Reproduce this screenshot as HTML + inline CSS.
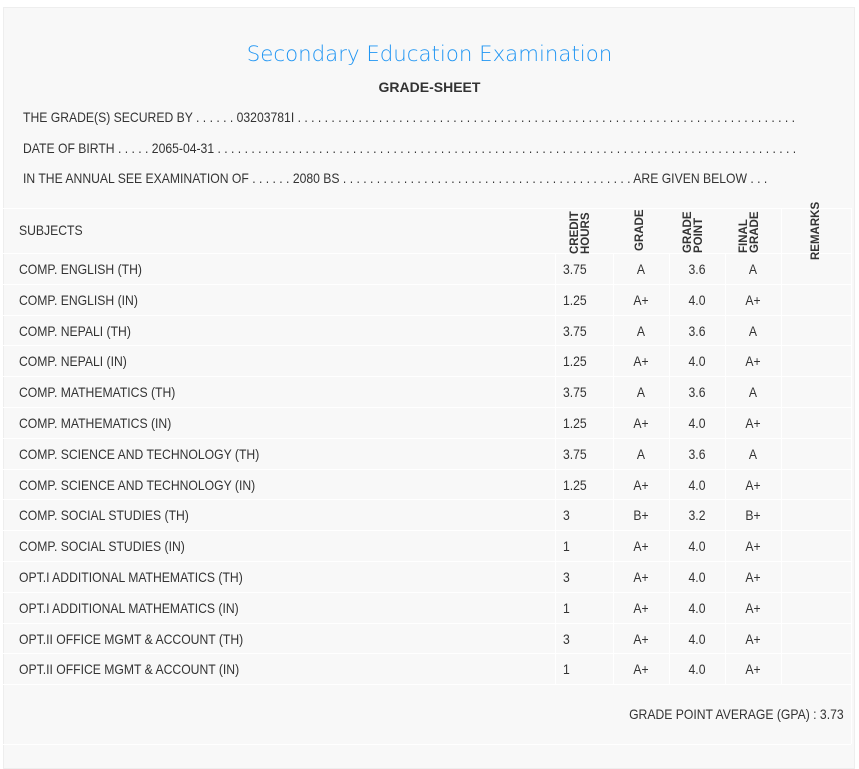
<!DOCTYPE html>
<html><head><style>
html,body{margin:0;padding:0;width:859px;height:757px;background:#fff;overflow:hidden}
body{font-family:"Liberation Sans",sans-serif;color:#333;font-size:14px}
.box{position:absolute;left:3px;top:7px;width:850px;height:760px;background:#f8f8f8;border:1px solid #eee}
.t{position:absolute;white-space:nowrap;transform:scaleX(.87);transform-origin:left top}
.tr{position:absolute;white-space:nowrap;transform:scaleX(.87);transform-origin:right top}
.hl{position:absolute;left:3px;width:848px;height:1px;background:#fff}
.vl{position:absolute;width:1px;background:#fff}
.c{position:absolute;text-align:center;white-space:nowrap;transform:scaleX(.87)}
.clip{position:absolute;overflow:hidden;white-space:nowrap;height:20px}
.rot{position:absolute;transform:rotate(-90deg);transform-origin:left top;font-weight:bold;font-size:11.5px;line-height:11px;white-space:nowrap;text-align:left}
</style></head><body>
<div class="box"></div>
<div style="position:absolute;left:0;width:859px;text-align:center;top:42px;font-family:'DejaVu Sans',sans-serif;font-size:21.3px;color:#2196f3;font-weight:300;white-space:nowrap">Secondary Education Examination</div>
<div style="position:absolute;left:0;width:859px;text-align:center;top:79px;font-weight:bold;font-size:14px">GRADE-SHEET</div>
<div class="clip" style="left:23px;top:109px;width:776px"><div class="t" style="left:0;top:0">THE GRADE(S) SECURED BY . . . . . . 03203781I . . . . . . . . . . . . . . . . . . . . . . . . . . . . . . . . . . . . . . . . . . . . . . . . . . . . . . . . . . . . . . . . . . . . . . . . . . . . . . . . . . . . . . . . . . . . .</div></div>
<div class="clip" style="left:23px;top:140px;width:772px"><div class="t" style="left:0;top:0">DATE OF BIRTH . . . . . 2065-04-31 . . . . . . . . . . . . . . . . . . . . . . . . . . . . . . . . . . . . . . . . . . . . . . . . . . . . . . . . . . . . . . . . . . . . . . . . . . . . . . . . . . . . . . . . . . . . . . . . . . .</div></div>
<div class="t" style="left:23px;top:170px">IN THE ANNUAL SEE EXAMINATION OF . . . . . . 2080 BS . . . . . . . . . . . . . . . . . . . . . . . . . . . . . . . . . . . . . . . . . . . ARE GIVEN BELOW . . .</div>
<div id="tbl"></div>
<div class="t" style="left:19px;top:222px">SUBJECTS</div>
<div class="rot" style="left:570px;top:254px">CREDIT<br>HOURS</div>
<div class="rot" style="left:635px;top:251px">GRADE</div>
<div class="rot" style="left:683px;top:253px">GRADE<br>POINT</div>
<div class="rot" style="left:739px;top:253px">FINAL<br>GRADE</div>
<div class="rot" style="left:811px;top:260px">REMARKS</div>
<div class="tr" style="right:15px;top:706px">GRADE POINT AVERAGE (GPA) : 3.73</div>
<script>
var rows=[["COMP. ENGLISH (TH)","3.75","A","3.6","A"],["COMP. ENGLISH (IN)","1.25","A+","4.0","A+"],["COMP. NEPALI (TH)","3.75","A","3.6","A"],["COMP. NEPALI (IN)","1.25","A+","4.0","A+"],["COMP. MATHEMATICS (TH)","3.75","A","3.6","A"],["COMP. MATHEMATICS (IN)","1.25","A+","4.0","A+"],["COMP. SCIENCE AND TECHNOLOGY (TH)","3.75","A","3.6","A"],["COMP. SCIENCE AND TECHNOLOGY (IN)","1.25","A+","4.0","A+"],["COMP. SOCIAL STUDIES (TH)","3","B+","3.2","B+"],["COMP. SOCIAL STUDIES (IN)","1","A+","4.0","A+"],["OPT.I ADDITIONAL MATHEMATICS (TH)","3","A+","4.0","A+"],["OPT.I ADDITIONAL MATHEMATICS (IN)","1","A+","4.0","A+"],["OPT.II OFFICE MGMT & ACCOUNT (TH)","3","A+","4.0","A+"],["OPT.II OFFICE MGMT & ACCOUNT (IN)","1","A+","4.0","A+"]];
var h="";
[208,253].forEach(function(y){h+='<div class="hl" style="top:'+y+'px"></div>'});
var rh=30.8;
for(var i=0;i<rows.length;i++){
 var y=253+i*rh, r=rows[i], ty=Math.round(y+8);
 h+='<div class="hl" style="top:'+Math.round(y+rh)+'px"></div>';
 h+='<div class="t" style="left:19px;top:'+ty+'px">'+r[0].replace("&","&amp;")+'</div>';
 h+='<div class="t" style="left:563px;top:'+ty+'px">'+r[1]+'</div>';
 h+='<div class="c" style="left:613px;width:56px;top:'+ty+'px">'+r[2]+'</div>';
 h+='<div class="c" style="left:669px;width:56px;top:'+ty+'px">'+r[3]+'</div>';
 h+='<div class="c" style="left:725px;width:56px;top:'+ty+'px">'+r[4]+'</div>';
}
[555,613,669,725,781].forEach(function(x){h+='<div class="vl" style="left:'+x+'px;top:253px;height:431px"></div>'});
h+='<div class="vl" style="left:781px;top:208px;height:45px"></div>';
h+='<div class="vl" style="left:851px;top:208px;height:536px"></div>';
h+='<div class="hl" style="top:744px"></div>';
document.getElementById("tbl").innerHTML=h;
</script>
</body></html>
